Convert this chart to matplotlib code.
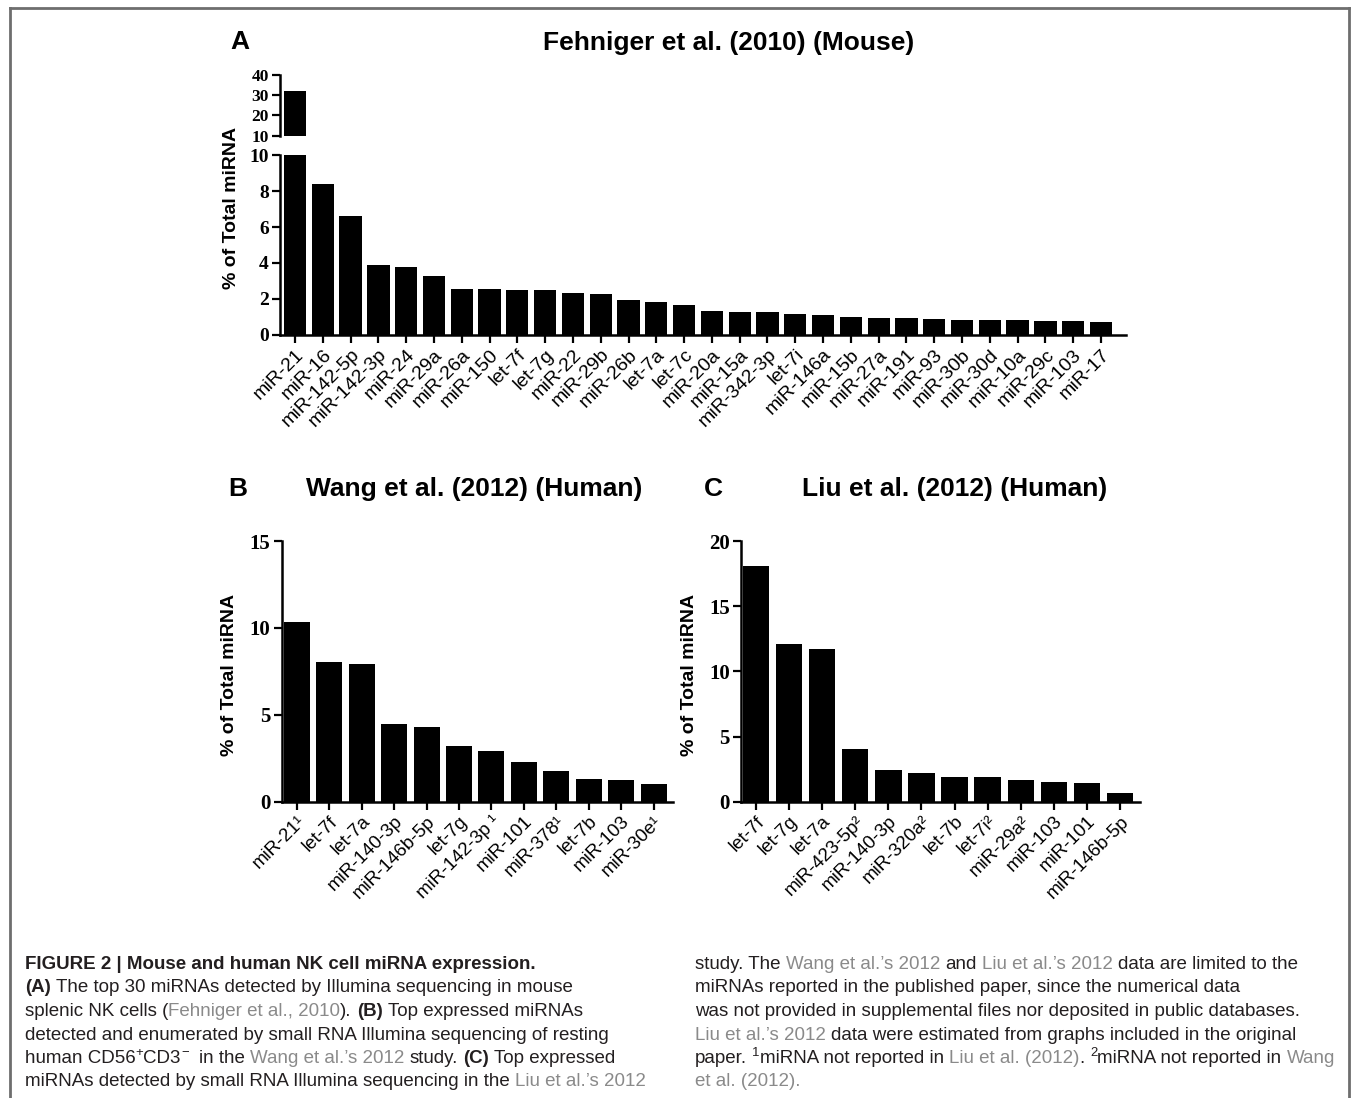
import matplotlib
matplotlib.use("Agg")
import matplotlib.pyplot as plt
from matplotlib.lines import Line2D

W, H = 1352, 1098

mouse_names = ["miR-21", "miR-16", "miR-142-5p", "miR-142-3p", "miR-24", "miR-29a",
               "miR-26a", "miR-150", "let-7f", "let-7g", "miR-22", "miR-29b", "miR-26b",
               "let-7a", "let-7c", "miR-20a", "miR-15a", "miR-342-3p", "let-7i", "miR-146a",
               "miR-15b", "miR-27a", "miR-191", "miR-93", "miR-30b", "miR-30d", "miR-10a",
               "miR-29c", "miR-103", "miR-17"]
mouse_pct = [32.0, 8.4, 6.6, 3.9, 3.75, 3.3, 2.58, 2.58, 2.5, 2.5, 2.35, 2.26, 1.94,
             1.85, 1.67, 1.35, 1.26, 1.26, 1.19, 1.09, 1.02, 0.94, 0.94, 0.91, 0.84,
             0.84, 0.84, 0.77, 0.77, 0.7]

wang_names = ["miR-21¹", "let-7f", "let-7a", "miR-140-3p", "miR-146b-5p", "let-7g",
              "miR-142-3p ¹", "miR-101", "miR-378¹", "let-7b", "miR-103", "miR-30e¹"]
wang_pct = [10.36, 8.06, 7.9, 4.47, 4.3, 3.2, 2.93, 2.26, 1.76, 1.32, 1.23, 1.02]

liu_names = ["let-7f", "let-7g", "let-7a", "miR-423-5p²", "miR-140-3p", "miR-320a²",
             "let-7b", "let-7i²", "miR-29a²", "miR-103", "miR-101", "miR-146b-5p"]
liu_pct = [18.08, 12.1, 11.74, 4.07, 2.46, 2.23, 1.87, 1.87, 1.66, 1.53, 1.41, 0.64]

plt.rcParams['font.family'] = ['Liberation Sans', 'DejaVu Sans']

fig = plt.figure(figsize=(W / 100, H / 100), dpi=100)


def box(l, t, r, b):
    return [l / W, 1 - b / H, (r - l) / W, (b - t) / H]


def style(ax, ticks, size):
    for s in ['top', 'right']:
        ax.spines[s].set_visible(False)
    for s in ['left', 'bottom']:
        ax.spines[s].set_linewidth(1.8)
    ax.tick_params(direction='out', length=6, width=1.6, pad=2)
    ax.set_yticks(ticks)
    ax.set_yticklabels([str(t) for t in ticks], family='Liberation Serif',
                       fontweight='bold', fontsize=size)


def xlabels(ax, names, size):
    ax.set_xticks(range(len(names)))
    ax.set_xticklabels(names, rotation=45, ha='right', rotation_mode='anchor',
                       fontsize=size)


# panel A: broken axis
xa = range(len(mouse_pct))
axA = fig.add_axes(box(280, 155, 1126, 335))
axA.bar(xa, mouse_pct, width=0.8, color='black')
axA.set_xlim(-0.54, 29.9)
axA.set_ylim(0, 10)
style(axA, [0, 2, 4, 6, 8, 10], 14)
xlabels(axA, mouse_names, 14)

axT = fig.add_axes(box(280, 75, 1126, 135.7))
axT.bar(xa, mouse_pct, width=0.8, color='black')
axT.set_xlim(-0.54, 29.9)
axT.set_ylim(10, 40)
style(axT, [10, 20, 30, 40], 12.5)
axT.spines['bottom'].set_visible(False)
axT.set_xticks([])

# panel B
axB = fig.add_axes(box(281.7, 541, 673, 801.7))
axB.bar(range(len(wang_pct)), wang_pct, width=0.8, color='black')
axB.set_xlim(-0.47, 11.6)
axB.set_ylim(0, 15)
style(axB, [0, 5, 10, 15], 15)
xlabels(axB, wang_names, 13.5)

# panel C
axC = fig.add_axes(box(741, 541, 1140, 801.7))
axC.bar(range(len(liu_pct)), liu_pct, width=0.8, color='black')
axC.set_xlim(-0.45, 11.6)
axC.set_ylim(0, 20)
style(axC, [0, 5, 10, 15, 20], 15)
xlabels(axC, liu_names, 13.5)

# titles, letters, y labels
def ftext(x, y, s, **kw):
    return fig.text(x / W, 1 - y / H, s, **kw)

head = dict(fontsize=19, fontweight='bold', ha='center', va='center')
ftext(240, 42, "A", **head)
ftext(729, 43, "Fehniger et al. (2010) (Mouse)", **head)
ftext(238, 489, "B", **head)
ftext(474, 489, "Wang et al. (2012) (Human)", **head)
ftext(713, 489, "C", **head)
ftext(955, 489, "Liu et al. (2012) (Human)", **head)

ylab = dict(fontsize=14, fontweight='bold', rotation=90, ha='center', va='center')
ftext(232, 208, "% of Total miRNA", **ylab)
ftext(230, 675, "% of Total miRNA", **ylab)
ftext(690, 675, "% of Total miRNA", **ylab)

# frame
frame = dict(color='#6e6e6e', lw=2, transform=fig.transFigure)
fig.add_artist(Line2D([10 / W, 10 / W], [0, 1 - 8 / H], **frame))
fig.add_artist(Line2D([10 / W, 1349 / W], [1 - 8 / H, 1 - 8 / H], **frame))
fig.add_artist(Line2D([1349 / W, 1349 / W], [0, 1 - 8 / H], **frame))

# caption
cap_font = ['Liberation Sans Narrow', 'Liberation Sans', 'DejaVu Sans']
cap_size = 13.5
renderer = fig.canvas.get_renderer()


def width(s, **kw):
    t = fig.text(0, 0, s, **kw)
    w = t.get_window_extent(renderer).width
    t.remove()
    return w


def rich(x, y, parts):
    for s, kind in parts:
        kw = dict(fontsize=cap_size, color='#231f20', family=cap_font)
        dy = 0
        if kind == 'b':
            kw['fontweight'] = 'bold'
        elif kind == 'g':
            kw['color'] = '#8a8a8a'
        elif kind == 's':
            kw['fontsize'] = cap_size * 0.7
            dy = 7
        sw = width("x x", **kw) - width("xx", **kw)
        core = s.strip(' ')
        lead = len(s) - len(s.lstrip(' '))
        trail = len(s) - len(s.rstrip(' '))
        x += lead * sw
        if core:
            t = ftext(x, y - dy, core, va='baseline', ha='left', **kw)
            x += t.get_window_extent(renderer).width
        x += trail * sw


y0, dy = 969, 23.5
left = [
    [("FIGURE 2 | Mouse and human NK cell miRNA expression.", 'b')],
    [("(A)", 'b'), (" The top 30 miRNAs detected by Illumina sequencing in mouse", '')],
    [("splenic NK cells (", ''), ("Fehniger et al., 2010", 'g'), ("). ", ''), ("(B)", 'b'),
     (" Top expressed miRNAs", '')],
    [("detected and enumerated by small RNA Illumina sequencing of resting", '')],
    [("human CD56", ''), ("+", 's'), ("CD3", ''), ("\u2212", 's'), ("  in the ", ''),
     ("Wang et al.\u2019s 2012", 'g'), (" study. ", ''), ("(C)", 'b'), (" Top expressed", '')],
    [("miRNAs detected by small RNA Illumina sequencing in the ", ''),
     ("Liu et al.\u2019s 2012", 'g')],
]
right = [
    [("study. The ", ''), ("Wang et al.\u2019s 2012", 'g'), (" and ", ''),
     ("Liu et al.\u2019s 2012", 'g'), (" data are limited to the", '')],
    [("miRNAs reported in the published paper, since the numerical data", '')],
    [("was not provided in supplemental files nor deposited in public databases.", '')],
    [("Liu et al.\u2019s 2012", 'g'), (" data were estimated from graphs included in the original", '')],
    [("paper. ", ''), ("1", 's'), ("miRNA not reported in ", ''), ("Liu et al. (2012)", 'g'),
     (". ", ''), ("2", 's'), ("miRNA not reported in ", ''), ("Wang", 'g')],
    [("et al. (2012).", 'g')],
]
for i, parts in enumerate(left):
    rich(25, y0 + i * dy, parts)
for i, parts in enumerate(right):
    rich(695, y0 + i * dy, parts)

fig.savefig("out.png", dpi=100)
